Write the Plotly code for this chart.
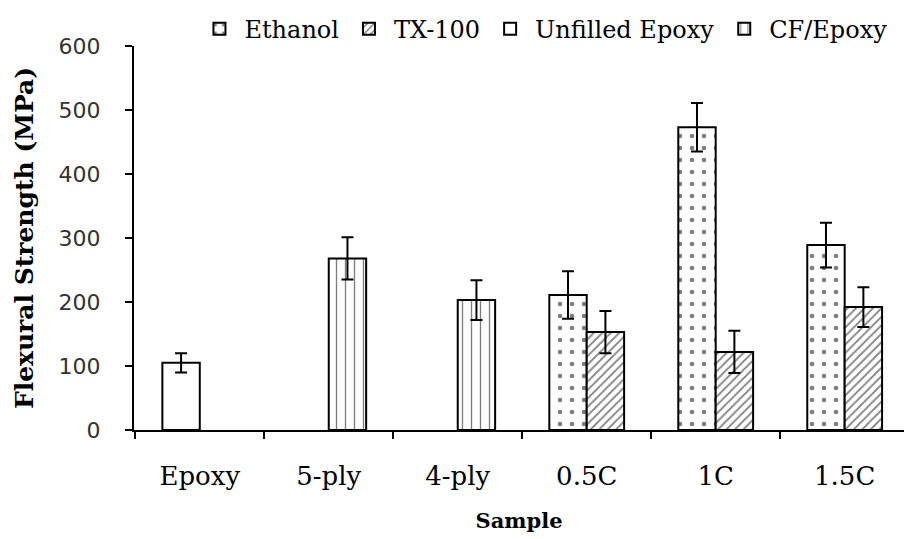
import plotly.graph_objects as go

categories = ["Epoxy", "5-ply", "4-ply", "0.5C", "1C", "1.5C"]

ethanol_x = ["0.5C", "1C", "1.5C"]
ethanol_y = [211, 473, 289]
ethanol_err = [37, 38, 35]

tx_x = ["0.5C", "1C", "1.5C"]
tx_y = [153, 122, 192]
tx_err = [33, 33, 31]

unfilled_x = ["Epoxy"]
unfilled_y = [105]
unfilled_err = [15]

cf_x = ["5-ply", "4-ply"]
cf_y = [268, 203]
cf_err = [33, 31]

y_ticks = [0, 100, 200, 300, 400, 500, 600]

SERIF = "DejaVu Serif"
BW = 0.29

def bar(name, x, y, err, offset, pattern):
    return go.Bar(
        name=name, x=x, y=y, width=BW, offset=offset,
        marker=dict(color="white", line=dict(color="black", width=2), pattern=pattern),
        error_y=dict(type="data", array=err, visible=True, color="black", thickness=2, width=6),
    )

fig = go.Figure()
fig.add_trace(bar("Ethanol", ethanol_x, ethanol_y, ethanol_err, -BW,
                  dict(shape=".", fgcolor="black", bgcolor="white", size=12, solidity=0.12)))
fig.add_trace(bar("TX-100", tx_x, tx_y, tx_err, 0,
                  dict(shape="/", fgcolor="black", bgcolor="white", size=6, solidity=0.3)))
fig.add_trace(bar("Unfilled Epoxy", unfilled_x, unfilled_y, unfilled_err, -BW, None))
fig.add_trace(bar("CF/Epoxy", cf_x, cf_y, cf_err, 0,
                  dict(shape="|", fgcolor="black", bgcolor="white", size=9, solidity=0.15)))

fig.update_layout(
    width=904, height=539,
    margin=dict(l=134, r=0, t=46, b=109, autoexpand=False),
    paper_bgcolor="white", plot_bgcolor="white",
    barmode="overlay",
    showlegend=True,
    legend=dict(orientation="h", x=0.985, xanchor="right", y=0.985, yanchor="bottom",
                font=dict(family=SERIF, size=24, color="black"),
                itemwidth=40, tracegroupgap=0, bgcolor="rgba(0,0,0,0)"),
    xaxis=dict(
        type="category", categoryorder="array", categoryarray=categories,
        range=[-0.51, 5.46], tickson="boundaries", ticks="outside", ticklen=7,
        tickwidth=2, tickcolor="black", showline=True, linecolor="black", linewidth=2,
        showgrid=False, tickfont=dict(family=SERIF, size=26, color="black"),
        ticklabelstandoff=22,
        title=dict(text="<b>Sample</b>", font=dict(family=SERIF, size=21, color="black"), standoff=23),
        fixedrange=True,
    ),
    yaxis=dict(
        range=[0, 600], tickvals=y_ticks, ticks="outside", ticklen=7, tickwidth=2,
        tickcolor="black", showline=True, linecolor="black", linewidth=2,
        showgrid=False, zeroline=False,
        tickfont=dict(family="DejaVu Sans", size=22, color="#333"),
        ticklabelstandoff=20,
        title=dict(text="<b>Flexural Strength (MPa)</b>", font=dict(family=SERIF, size=25, color="black"), standoff=18),
    ),
)

fig.write_html("out.html")
